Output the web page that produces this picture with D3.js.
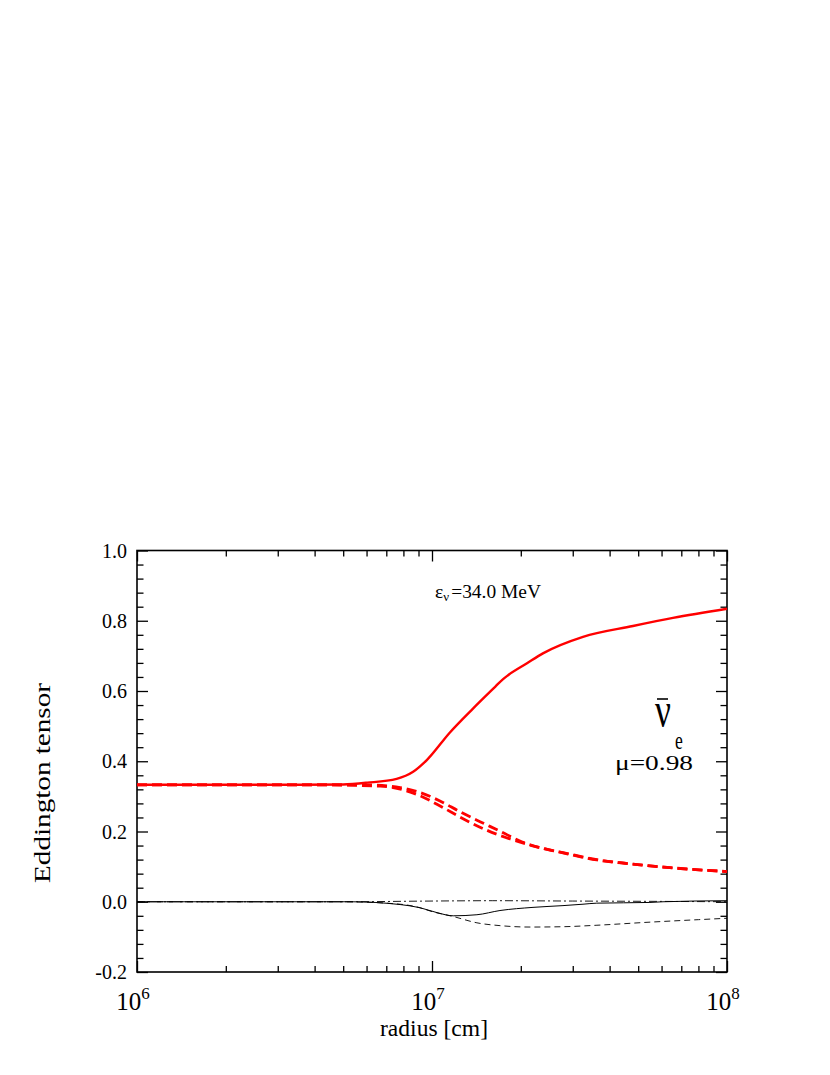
<!DOCTYPE html>
<html>
<head>
<meta charset="utf-8">
<script src="https://cdn.jsdelivr.net/npm/d3@7"></script>
<style>
  body { margin: 0; background: #fff; }
  svg { display: block; }
  text { font-family: "Liberation Serif", "Times New Roman", serif; fill: #000; }
</style>
</head>
<body>
<svg id="chart" width="830" height="1075"></svg>
<script>
// ---- data (radius in cm, Eddington tensor components) ----
const redSolidR = [1e6, 3.57e6, 5e6, 6.03e6, 7.59e6, 8.63e6, 9.62e6, 1.15e7, 1.377e7, 1.637e7, 1.742e7, 1.811e7, 2.099e7, 2.377e7, 3.25e7, 4.8e7, 6.56e7, 1e8];
const redSolidV = [0.333, 0.333, 0.334, 0.339, 0.350, 0.370, 0.404, 0.482, 0.550, 0.612, 0.634, 0.645, 0.679, 0.707, 0.754, 0.785, 0.808, 0.834];

const redDashAR = [1e6, 4e6, 6e6, 7.8e6, 8.89e6, 1.064e7, 1.245e7, 1.455e7, 1.70e7, 1.986e7, 2.455e7, 2.78e7, 3.62e7, 4.69e7, 6.41e7, 1e8];
const redDashAV = [0.333, 0.333, 0.333, 0.325, 0.314, 0.287, 0.256, 0.228, 0.201, 0.173, 0.149, 0.139, 0.119, 0.108, 0.097, 0.086];

const redDashBR = [1e6, 4e6, 6.67e6, 9.1e6, 1.09e7, 1.27e7, 1.53e7, 1.88e7, 2.32e7, 2.78e7, 3.62e7, 4.69e7, 6.41e7, 1e8];
const redDashBV = [0.333, 0.333, 0.329, 0.302, 0.268, 0.237, 0.204, 0.176, 0.154, 0.140, 0.120, 0.108, 0.097, 0.086];

const blackSolidR = [1e6, 5.27e6, 7.8e6, 9.1e6, 1.04e7, 1.18e7, 1.42e7, 1.70e7, 2.2e7, 2.78e7, 3.25e7, 3.62e7, 5.48e7, 6.07e7, 1e8];
const blackSolidV = [0, 0, -0.008, -0.017, -0.031, -0.040, -0.037, -0.025, -0.016, -0.011, -0.007, -0.004, -0.002, 0, 0.003];

const blackDashR = [1e6, 5e6, 7.8e6, 9e6, 1e7, 1.18e7, 1.42e7, 1.7e7, 2.15e7, 2.8e7, 3.6e7, 5.5e7, 8e7, 1e8];
const blackDashV = [0, 0, -0.007, -0.016, -0.028, -0.042, -0.060, -0.068, -0.072, -0.071, -0.067, -0.058, -0.051, -0.047];

const blackDotDashR = [1e6, 5e6, 1e7, 1.6e7, 3e7, 6e7, 1e8];
const blackDotDashV = [0, 0, 0.002, 0.003, 0.002, 0.001, 0.0];

const yMajorTicks = [-0.2, 0.0, 0.2, 0.4, 0.6, 0.8, 1.0];
const yTickLabels = ["-0.2", "0.0", "0.2", "0.4", "0.6", "0.8", "1.0"];
const xMajorTicks = [1e6, 1e7, 1e8];
const xTickExponents = ["6", "7", "8"];

// ---- layout ----
const svg = d3.select("#chart");
const L = 137, R = 727, T = 550.5, B = 972;

const x = d3.scaleLog().domain([1e6, 1e8]).range([L, R]);
const y = d3.scaleLinear().domain([-0.2, 1.0]).range([B, T]);

const yMinor = d3.range(-0.2, 1.0001, 0.04).map(v => +v.toFixed(2)).filter(v => !yMajorTicks.some(m => Math.abs(m - v) < 1e-6));
const xMinor = [];
[1e6, 1e7].forEach(d => { for (let k = 2; k <= 9; k++) xMinor.push(d * k); });

function styleAxis(g) {
  g.select(".domain").remove();
  g.selectAll(".tick line").attr("stroke", "#000").attr("stroke-width", 1.3);
  g.selectAll(".tick text").remove();
}

// y axes (inside ticks)
svg.append("g").attr("transform", `translate(${L},0)`)
  .call(d3.axisLeft(y).tickValues(yMajorTicks).tickSize(-11)).call(styleAxis);
svg.append("g").attr("transform", `translate(${L},0)`)
  .call(d3.axisLeft(y).tickValues(yMinor).tickSize(-6.5)).call(styleAxis);
svg.append("g").attr("transform", `translate(${R},0)`)
  .call(d3.axisRight(y).tickValues(yMajorTicks).tickSize(-11)).call(styleAxis);
svg.append("g").attr("transform", `translate(${R},0)`)
  .call(d3.axisRight(y).tickValues(yMinor).tickSize(-6.5)).call(styleAxis);

// x axes
svg.append("g").attr("transform", `translate(0,${B})`)
  .call(d3.axisBottom(x).tickValues(xMajorTicks).tickSize(-11)).call(styleAxis);
svg.append("g").attr("transform", `translate(0,${B})`)
  .call(d3.axisBottom(x).tickValues(xMinor).tickSize(-6)).call(styleAxis);
svg.append("g").attr("transform", `translate(0,${T})`)
  .call(d3.axisTop(x).tickValues(xMajorTicks).tickSize(-11)).call(styleAxis);
svg.append("g").attr("transform", `translate(0,${T})`)
  .call(d3.axisTop(x).tickValues(xMinor).tickSize(-6)).call(styleAxis);

// frame
svg.append("rect").attr("x", L).attr("y", T).attr("width", R - L).attr("height", B - T)
  .attr("fill", "none").attr("stroke", "#000").attr("stroke-width", 1.6);

// y tick labels
svg.append("g").selectAll("text").data(yMajorTicks).join("text")
  .attr("x", L - 10).attr("y", d => y(d) + 7)
  .attr("text-anchor", "end").attr("font-size", 20)
  .text((d, i) => yTickLabels[i]);

// x tick labels 10^n
const xl = svg.append("g").selectAll("text").data(xMajorTicks).join("text")
  .attr("x", d => x(d) - 4).attr("y", 1010)
  .attr("text-anchor", "middle").attr("font-size", 25);
xl.append("tspan").text("10");
xl.append("tspan").attr("font-size", 17).attr("dy", -11).text((d, i) => xTickExponents[i]);

// axis titles
svg.append("text").attr("x", 434).attr("y", 1036).attr("text-anchor", "middle")
  .attr("font-size", 23).attr("textLength", 108).attr("lengthAdjust", "spacingAndGlyphs")
  .text("radius [cm]");
svg.append("text").attr("transform", "translate(50,783) rotate(-90)")
  .attr("text-anchor", "middle").attr("font-size", 24)
  .attr("textLength", 200).attr("lengthAdjust", "spacingAndGlyphs")
  .text("Eddington tensor");

// lines
const lineGen = d3.line().x(d => x(d[0])).y(d => y(d[1])).curve(d3.curveMonotoneX);
const zip = (a, b) => a.map((v, i) => [v, b[i]]);
const plotG = svg.append("g");
function addLine(rs, vs, color, width, dash) {
  plotG.append("path").datum(zip(rs, vs))
    .attr("fill", "none").attr("stroke", color).attr("stroke-width", width)
    .attr("stroke-dasharray", dash || null)
    .attr("d", lineGen);
}
addLine(blackDotDashR, blackDotDashV, "#000", 0.9, "8,3,2,3");
addLine(blackDashR, blackDashV, "#000", 0.9, "6,4");
addLine(blackSolidR, blackSolidV, "#000", 1.0);
addLine(redDashAR, redDashAV, "#ff0000", 2.8, "10,5");
addLine(redDashBR, redDashBV, "#ff0000", 2.8, "10,5");
addLine(redSolidR, redSolidV, "#ff0000", 2.4);

// annotations
const eps = svg.append("text").attr("x", 435).attr("y", 598).attr("font-size", 18)
  .attr("textLength", 106).attr("lengthAdjust", "spacingAndGlyphs");
eps.append("tspan").text("ε");
eps.append("tspan").attr("font-size", 12).attr("dy", 3).text("ν");
eps.append("tspan").attr("dy", -3).attr("dx", 2).text("=34.0 MeV");

const nuG = svg.append("g").attr("transform", "translate(655,727) scale(0.8,1.15)");
nuG.append("text").attr("x", 0).attr("y", 0).attr("font-size", 44).text("ν");
nuG.append("text").attr("x", 25).attr("y", 19).attr("font-size", 22).text("e");
svg.append("line").attr("x1", 657).attr("x2", 668).attr("y1", 699).attr("y2", 699)
  .attr("stroke", "#000").attr("stroke-width", 1.6);

svg.append("text").attr("x", 615).attr("y", 770).attr("font-size", 21)
  .attr("textLength", 78).attr("lengthAdjust", "spacingAndGlyphs").text("μ=0.98");
</script>
</body>
</html>
